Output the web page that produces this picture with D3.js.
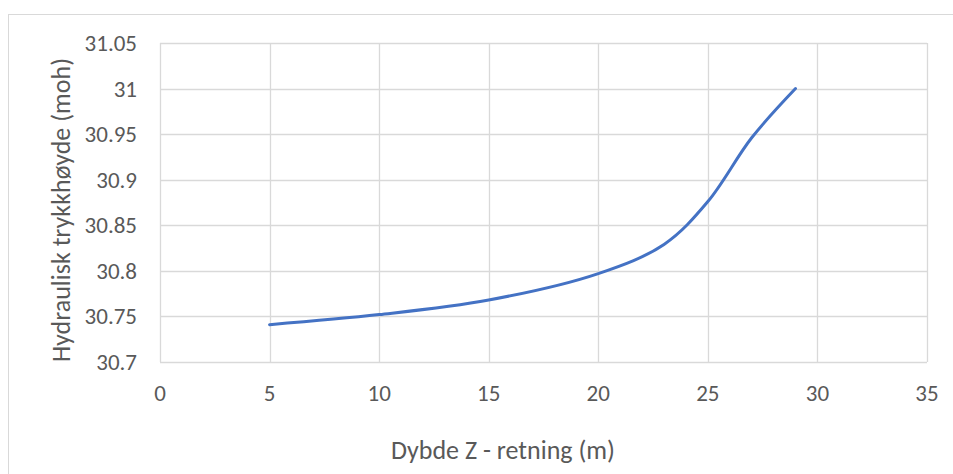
<!DOCTYPE html>
<html>
<head>
<meta charset="utf-8">
<script src="https://cdn.jsdelivr.net/npm/d3@7"></script>
<style>
  body { margin: 0; background: #fff; }
  text { font-family: Carlito, Calibri, "Liberation Sans", sans-serif; fill: #595959; }
</style>
</head>
<body>
<div class="chart"></div>
<script>
// Data
const depth = [5, 10, 15, 20, 23, 25, 27, 29];
const head = [30.741, 30.752, 30.768, 30.797, 30.829, 30.876, 30.946, 31.0];
const xTicks = [0, 5, 10, 15, 20, 25, 30, 35];
const yTicks = [30.7, 30.75, 30.8, 30.85, 30.9, 30.95, 31, 31.05];

const W = 953, H = 474;
const margin = { top: 43, right: 26, bottom: 112, left: 160 };
const width = W - margin.left - margin.right;
const height = H - margin.top - margin.bottom;

const svg = d3.select(".chart")
    .append("svg")
    .attr("width", W)
    .attr("height", H);

// outer chart frame
svg.append("rect")
    .attr("x", 8.5).attr("y", 14.5)
    .attr("width", W).attr("height", H)
    .attr("fill", "none")
    .attr("stroke", "#d9d9d9");

const g = svg.append("g")
    .attr("transform", `translate(${margin.left}, ${margin.top})`);

const x = d3.scaleLinear().domain([0, 35]).range([0, width]);
const y = d3.scaleLinear().domain([30.7, 31.05]).range([height, 0]);

// gridlines
g.append("g")
    .selectAll("line")
    .data(xTicks)
    .join("line")
    .attr("x1", d => Math.round(x(d)) + 0.5)
    .attr("x2", d => Math.round(x(d)) + 0.5)
    .attr("y1", 0).attr("y2", height)
    .attr("stroke", "#d9d9d9").attr("stroke-width", 1.3);

g.append("g")
    .selectAll("line")
    .data(yTicks)
    .join("line")
    .attr("x1", 0).attr("x2", width)
    .attr("y1", d => Math.round(y(d)) + 0.5)
    .attr("y2", d => Math.round(y(d)) + 0.5)
    .attr("stroke", "#d9d9d9").attr("stroke-width", 1.3);

// tick labels
g.append("g")
    .selectAll("text")
    .data(xTicks)
    .join("text")
    .attr("x", d => x(d))
    .attr("y", height + 31)
    .attr("dy", "0.35em")
    .attr("text-anchor", "middle")
    .style("font-size", "23px")
    .text(d => d);

g.append("g")
    .selectAll("text")
    .data(yTicks)
    .join("text")
    .attr("x", -23)
    .attr("y", d => y(d))
    .attr("dy", "0.35em")
    .attr("text-anchor", "end")
    .style("font-size", "23px")
    .text(d => d);

// line
const line = d3.line()
    .x(d => x(d))
    .y((d, i) => y(head[i]))
    .curve(d3.curveCatmullRom.alpha(0.5));

g.append("path")
    .datum(depth)
    .attr("fill", "none")
    .attr("stroke", "#4472c4")
    .attr("stroke-width", 3)
    .attr("stroke-linecap", "round")
    .attr("d", line);

// axis titles
svg.append("text")
    .attr("x", 503)
    .attr("y", 450)
    .attr("dy", "0.35em")
    .attr("text-anchor", "middle")
    .style("font-size", "26px")
    .text("Dybde Z - retning (m)");

svg.append("text")
    .attr("transform", "translate(61, 210) rotate(-90)")
    .attr("dy", "0.35em")
    .attr("text-anchor", "middle")
    .style("font-size", "26px")
    .text("Hydraulisk trykkhøyde (moh)");
</script>
</body>
</html>
